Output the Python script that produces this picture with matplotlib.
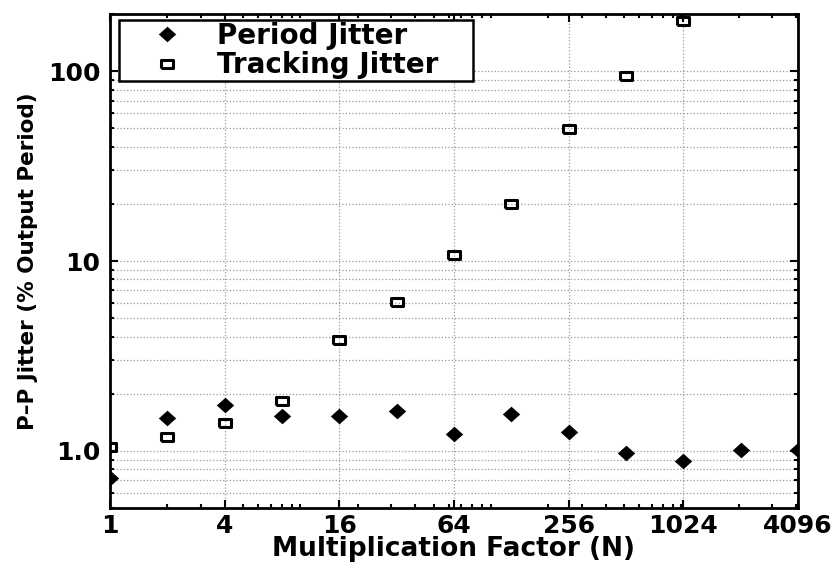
import numpy as np
import matplotlib
matplotlib.use('Agg')
import matplotlib.pyplot as plt
from matplotlib.ticker import FixedLocator, FixedFormatter, LogLocator, NullFormatter

plt.rcParams['font.family'] = ['DejaVu Sans']
plt.rcParams['font.weight'] = 'bold'
plt.rcParams['axes.labelweight'] = 'bold'
plt.rcParams['font.size'] = 18

# data
n_period = [1, 2, 4, 8, 16, 32, 64, 128, 256, 512, 1024, 2048, 4096]
period_jitter = [0.72, 1.49, 1.74, 1.52, 1.52, 1.63, 1.23, 1.57, 1.25, 0.97, 0.88, 1.01, 1.01]
n_tracking = [1, 2, 4, 8, 16, 32, 64, 128, 256, 512, 1024]
tracking_jitter = [1.05, 1.19, 1.40, 1.82, 3.85, 6.1, 10.7, 20.0, 49.3, 93.8, 183]

x_ticks = [1, 4, 16, 64, 256, 1024, 4096]
x_labels = ['1', '4', '16', '64', '256', '1024', '4096']
y_ticks = [1, 10, 100]
y_labels = ['1.0', '10', '100']

fig = plt.figure(figsize=(8.37, 5.65), dpi=100)
ax = fig.add_axes([0.1314, 0.1009, 0.822, 0.8743])

# wide diamond / wide rectangle markers (reference image is stretched)
diamond = [(-1, 0), (0, 0.9), (1, 0), (0, -0.9), (-1, 0)]
rect = [(-1, -0.68), (1, -0.68), (1, 0.68), (-1, 0.68), (-1, -0.68)]

ax.plot(n_period, period_jitter, linestyle='none', marker=diamond, markersize=12.5,
        color='black', markeredgewidth=0, label='Period Jitter')
ax.plot(n_tracking, tracking_jitter, linestyle='none', marker=rect, markersize=8,
        markerfacecolor='none', markeredgecolor='black', markeredgewidth=2.2,
        label='Tracking Jitter')

ax.set_xscale('log')
ax.set_yscale('log')
ax.set_xlim(1, 4096)
ax.set_ylim(0.5, 200)

ax.xaxis.set_major_locator(FixedLocator(x_ticks))
ax.xaxis.set_major_formatter(FixedFormatter(x_labels))
ax.xaxis.set_minor_locator(LogLocator(base=10, subs=np.arange(1, 10), numticks=50))
ax.xaxis.set_minor_formatter(NullFormatter())
ax.yaxis.set_major_locator(FixedLocator(y_ticks))
ax.yaxis.set_major_formatter(FixedFormatter(y_labels))
ax.yaxis.set_minor_locator(LogLocator(base=10, subs=np.arange(2, 10), numticks=50))
ax.yaxis.set_minor_formatter(NullFormatter())

ax.tick_params(which='both', direction='in', top=True, right=True, width=1.5)
ax.tick_params(which='major', length=6)
ax.tick_params(which='minor', length=3)
ax.tick_params(axis='x', which='major', pad=4)
ax.tick_params(axis='y', which='major', pad=7)

ax.grid(True, axis='x', which='major', linestyle=':', color='#999999', linewidth=0.9)
ax.grid(True, axis='y', which='both', linestyle=':', color='#999999', linewidth=0.9)

for s in ax.spines.values():
    s.set_linewidth(2)

ax.set_xlabel('Multiplication Factor (N)', fontsize=19, labelpad=-1)
ax.set_ylabel('P\u2013P Jitter (% Output Period)', fontsize=15.5, labelpad=7)

leg = ax.legend(loc='upper left', bbox_to_anchor=(0.0131, 0.5, 0.5145, 0.488),
                mode='expand', fancybox=False, framealpha=1, edgecolor='black',
                borderaxespad=0, fontsize=20, borderpad=0.07, labelspacing=0.05,
                handlelength=3.3, handletextpad=0.15)
leg.get_frame().set_linewidth(1.8)

plt.savefig('out.png', dpi=100)
